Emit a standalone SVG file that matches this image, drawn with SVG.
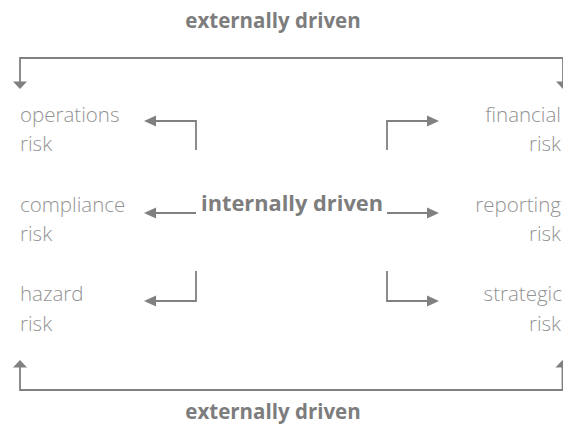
<svg xmlns="http://www.w3.org/2000/svg" width="563" height="424" viewBox="0 0 563 424">
<defs>
<style>
.lbl{font-family:"Open Sans","Liberation Sans",sans-serif;font-size:20.5px;font-weight:300;fill:#939393}
.bold{font-family:"Open Sans","Liberation Sans",sans-serif;font-size:20.5px;font-weight:700;fill:#7d7d7d}
.ln{fill:none;stroke:#808080;stroke-width:1.8}
.hd{fill:#808080}
</style>
</defs>
<rect width="563" height="424" fill="#ffffff"/>
<g id="ext-top"><text class="bold" x="273" y="28" text-anchor="middle">externally driven</text></g>
<g id="ext-bottom"><text class="bold" x="273" y="419" text-anchor="middle">externally driven</text></g>
<g id="internal"><text class="bold" x="292" y="211" text-anchor="middle" style="font-size:21.8px">internally driven</text></g>
<g id="operations"><text class="lbl" x="20" y="121.5">operations</text><text class="lbl" x="20" y="151">risk</text></g>
<g id="compliance"><text class="lbl" x="20" y="212">compliance</text><text class="lbl" x="20" y="241">risk</text></g>
<g id="hazard"><text class="lbl" x="20" y="301">hazard</text><text class="lbl" x="20" y="331">risk</text></g>
<g id="financial"><text class="lbl" x="561" y="121.5" text-anchor="end">financial</text><text class="lbl" x="561" y="151" text-anchor="end">risk</text></g>
<g id="reporting"><text class="lbl" x="561" y="212" text-anchor="end">reporting</text><text class="lbl" x="561" y="241" text-anchor="end">risk</text></g>
<g id="strategic"><text class="lbl" x="562" y="301" text-anchor="end">strategic</text><text class="lbl" x="561" y="331" text-anchor="end">risk</text></g>
<g id="connectors">
<path class="ln" d="M20,82 V58 H563 V82"/>
<path class="hd" d="M13,81.5 L27,81.5 L20,89 Z"/>
<path class="hd" d="M556,81.5 L570,81.5 L563,89 Z"/>
<path class="ln" d="M20,367 V390 H562.5 V367"/>
<path class="hd" d="M13,367.5 L27,367.5 L20,360 Z"/>
<path class="hd" d="M555.5,367.5 L569.5,367.5 L562.5,360 Z"/>
<path class="ln" d="M196,150 V121 H155"/>
<path class="hd" d="M156,115.5 L156,126.5 L144,121 Z"/>
<path class="ln" d="M196,213 H155"/>
<path class="hd" d="M156,207.5 L156,218.5 L144,213 Z"/>
<path class="ln" d="M196,271 V301 H155"/>
<path class="hd" d="M156,295.5 L156,306.5 L144,301 Z"/>
<path class="ln" d="M387,150 V121 H428"/>
<path class="hd" d="M427,115.5 L427,126.5 L439,121 Z"/>
<path class="ln" d="M387,213 H428"/>
<path class="hd" d="M427,207.5 L427,218.5 L439,213 Z"/>
<path class="ln" d="M387,271 V301 H428"/>
<path class="hd" d="M427,295.5 L427,306.5 L439,301 Z"/>
</g>
</svg>
